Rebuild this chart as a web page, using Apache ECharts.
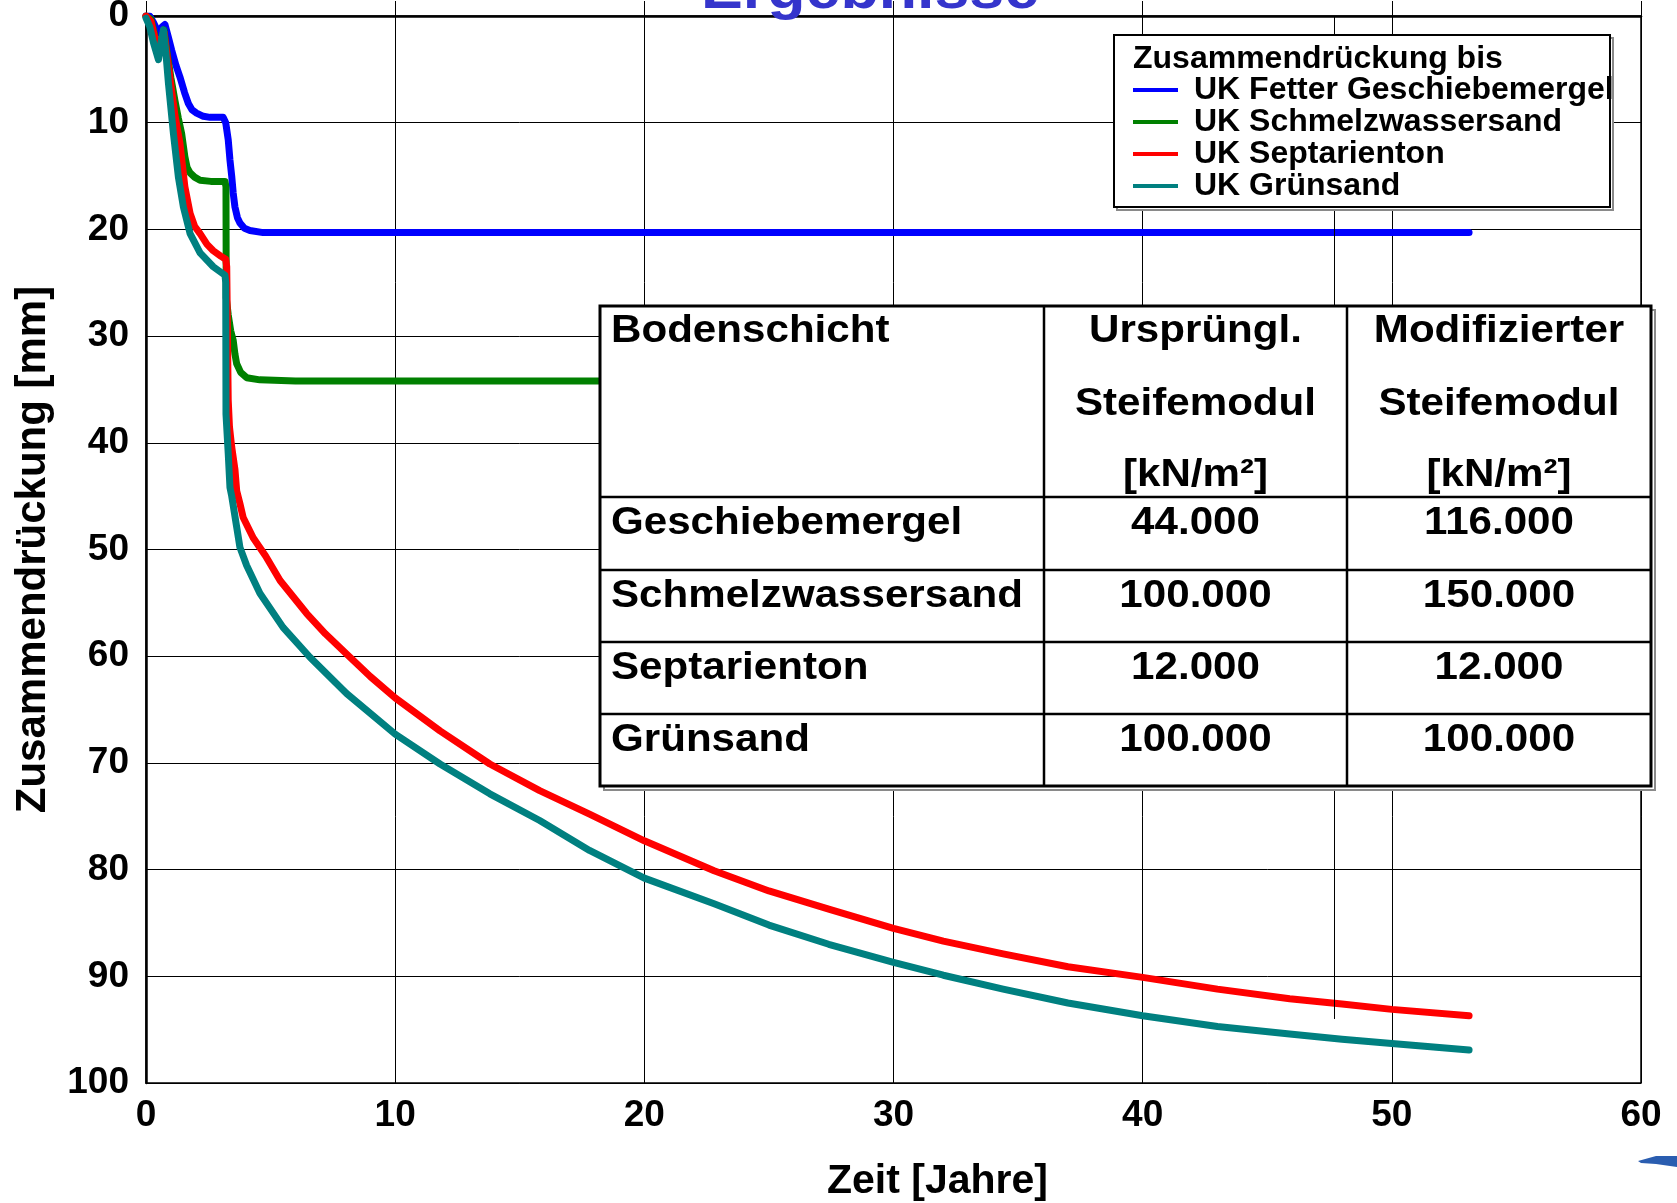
<!DOCTYPE html>
<html>
<head>
<meta charset="utf-8">
<script src="https://cdn.jsdelivr.net/npm/echarts@6/dist/echarts.min.js"></script>
<style>
  html, body { margin: 0; padding: 0; background: #fff; }
  #chart { width: 1677px; height: 1203px; }
</style>
</head>
<body>
<div id="chart"></div>
<script>
// Setzung über die Zeit: [Zeit in Jahren, Zusammendrückung in mm]
const seriesNames = [
  'UK Fetter Geschiebemergel',
  'UK Schmelzwassersand',
  'UK Septarienton',
  'UK Grünsand'
];

const geschiebemergel = [
  [0, 0], [0.15, 0], [0.3, 0.6], [0.5, 1.6], [0.65, 1.0], [0.76, 0.8], [0.9, 2.0],
  [1.03, 3.2], [1.2, 4.6], [1.36, 5.7], [1.55, 7.2], [1.7, 8.2], [1.85, 8.8],
  [2.03, 9.1], [2.3, 9.4], [2.57, 9.5], [2.9, 9.5], [3.1, 9.5], [3.2, 10.0],
  [3.3, 11.6], [3.37, 13.5], [3.44, 15.0], [3.5, 16.6], [3.57, 17.9], [3.67, 18.9],
  [3.77, 19.4], [3.95, 19.9], [4.17, 20.1], [4.7, 20.3], [6, 20.3], [53.1, 20.3]
];

const schmelzwassersand = [
  [0, 0], [0.2, 0.3], [0.35, 1.8], [0.5, 3.5], [0.62, 2.5], [0.72, 1.3], [0.85, 3.5],
  [1.0, 5.8], [1.16, 7.9], [1.3, 9.6], [1.43, 11.0], [1.56, 13.2], [1.65, 14.2],
  [1.77, 14.7], [1.95, 15.1], [2.17, 15.4], [2.6, 15.5], [3.17, 15.5], [3.21, 16],
  [3.22, 26.4], [3.3, 28], [3.4, 29.5], [3.5, 30.4], [3.57, 31.7], [3.64, 32.6],
  [3.8, 33.4], [4.04, 33.9], [4.57, 34.1], [6, 34.2], [53.1, 34.2]
];

const septarienton = [
  [0, 0], [0.2, 0.5], [0.35, 2], [0.5, 3.8], [0.62, 2.8], [0.72, 1.5], [0.85, 3.8],
  [1.0, 6.5], [1.16, 9.3], [1.36, 11.9], [1.56, 16], [1.77, 18.5], [1.95, 19.7],
  [2.17, 20.4], [2.45, 21.4], [2.7, 22.0], [3.0, 22.5], [3.2, 22.8], [3.24, 23.5],
  [3.27, 30], [3.3, 36], [3.35, 38.5], [3.44, 40.4], [3.57, 42.5], [3.64, 44.5],
  [3.77, 45.7], [3.9, 47], [4.3, 48.9], [4.8, 50.6], [5.38, 52.9], [6.45, 56],
  [7.2, 57.9], [8.05, 59.8], [9, 61.9], [10, 63.9], [11.8, 67], [13.8, 70.1],
  [15.8, 72.6], [17.8, 74.8], [20, 77.3], [22.8, 80.1], [25, 82], [27.4, 83.7],
  [30, 85.5], [32, 86.7], [34.4, 87.9], [37, 89.1], [40, 90.1], [43, 91.2],
  [45.9, 92.1], [48, 92.6], [50, 93.1], [53.1, 93.7]
];

const gruensand = [
  [0, 0.2], [0.15, 1], [0.3, 2.5], [0.5, 4.1], [0.6, 2.5], [0.7, 1.3], [0.8, 3.5],
  [0.9, 6.3], [1.1, 11], [1.3, 15.1], [1.5, 17.9], [1.77, 20.4], [2.17, 22.2],
  [2.7, 23.5], [3.17, 24.3], [3.2, 25], [3.21, 37.3], [3.3, 41], [3.37, 44.2],
  [3.44, 45], [3.64, 47.9], [3.77, 49.8], [4.04, 51.5], [4.57, 54.1], [5.5, 57.3],
  [6.58, 60.1], [8.05, 63.5], [10, 67.3], [11.8, 70.1], [13.8, 72.9], [15.8, 75.4],
  [17.8, 78.2], [20, 80.8], [22.8, 83.2], [25, 85.2], [27.4, 87], [30, 88.7],
  [32, 89.9], [34.4, 91.2], [37, 92.5], [40, 93.7], [43, 94.7], [45.9, 95.4],
  [48, 95.9], [50, 96.3], [53.1, 96.9]
];

const seriesColors = ['#0000ff', '#008000', '#ff0000', '#008080'];

// Hilfslinie im Diagramm
const referenceLineX = 47.7;
const referenceLineEnd = 94;

// Tabelle der Steifemoduln
const headerCols = [
  ['Bodenschicht'],
  ['Ursprüngl.', 'Steifemodul', '[kN/m²]'],
  ['Modifizierter', 'Steifemodul', '[kN/m²]']
];
const layers = ['Geschiebemergel', 'Schmelzwassersand', 'Septarienton', 'Grünsand'];
const esOriginal = ['44.000', '100.000', '12.000', '100.000'];
const esModified = ['116.000', '150.000', '12.000', '100.000'];

const FONT = '"Liberation Sans", Arial, Helvetica, sans-serif';

// ---- Tabelle als Grafik ----
function buildTable() {
  const colX = [600, 1044, 1347, 1651];
  const rowY = [306, 497, 570, 642, 714, 786];
  const tableFont = 'bold 39px ' + FONT;
  const sx = 1.08;
  const els = [];
  // Schatten
  els.push({
    type: 'rect', z: 9,
    shape: { x: colX[0] + 4, y: rowY[0] + 4, width: colX[3] - colX[0], height: rowY[5] - rowY[0] },
    style: { fill: '#fff', stroke: '#8a8a8a', lineWidth: 2 }
  });
  // Rahmen
  els.push({
    type: 'rect', z: 10,
    shape: { x: colX[0], y: rowY[0], width: colX[3] - colX[0], height: rowY[5] - rowY[0] },
    style: { fill: '#fff', stroke: '#000', lineWidth: 3 }
  });
  for (let i = 1; i < 5; i++) {
    els.push({
      type: 'line', z: 11,
      shape: { x1: colX[0], y1: rowY[i], x2: colX[3], y2: rowY[i] },
      style: { stroke: '#000', lineWidth: 2.5 }
    });
  }
  for (let j = 1; j < 3; j++) {
    els.push({
      type: 'line', z: 11,
      shape: { x1: colX[j], y1: rowY[0], x2: colX[j], y2: rowY[5] },
      style: { stroke: '#000', lineWidth: 2.5 }
    });
  }
  const headLineY = [331, 404, 475];
  headerCols.forEach((lines, c) => {
    lines.forEach((t, k) => {
      const left = c === 0;
      els.push({
        type: 'text', z: 12,
        x: left ? colX[0] + 11 : (colX[c] + colX[c + 1]) / 2,
        y: headLineY[k],
        scaleX: sx,
        style: { text: t, font: tableFont, fill: '#000', align: left ? 'left' : 'center', verticalAlign: 'middle' }
      });
    });
  });
  layers.forEach((name, r) => {
    const cy = rowY[r + 1] + 26.5;
    [name, esOriginal[r], esModified[r]].forEach((t, c) => {
      const left = c === 0;
      els.push({
        type: 'text', z: 12,
        x: left ? colX[0] + 11 : (colX[c] + colX[c + 1]) / 2,
        y: cy,
        scaleX: sx,
        style: { text: t, font: tableFont, fill: '#000', align: left ? 'left' : 'center', verticalAlign: 'middle' }
      });
    });
  });
  return els;
}

const chart = echarts.init(document.getElementById('chart'), null, { renderer: 'canvas' });

const series = [geschiebemergel, schmelzwassersand, septarienton, gruensand].map((d, i) => ({
  name: seriesNames[i],
  type: 'line',
  data: d,
  showSymbol: false,
  symbol: 'none',
  smooth: false,
  color: seriesColors[i],
  lineStyle: { color: seriesColors[i], width: 7, cap: 'round', join: 'round' },
  z: 2 + i,
  markLine: i === 0 ? {
    silent: true,
    symbol: ['none', 'none'],
    label: { show: false },
    lineStyle: { color: '#000', width: 1, type: 'solid' },
    data: [[{ coord: [referenceLineX, 0] }, { coord: [referenceLineX, referenceLineEnd] }]]
  } : undefined
}));

const option = {
  animation: false,
  backgroundColor: '#fff',
  grid: {
    left: 146, right: 36, top: 16, bottom: 120,
    outerBoundsMode: 'none',
    containLabel: false,
    show: true, borderColor: '#000', borderWidth: 1.5, backgroundColor: 'transparent'
  },
  xAxis: {
    type: 'value', min: 0, max: 60, interval: 10,
    name: 'Zeit [Jahre]', nameLocation: 'middle', nameGap: 78,
    nameTextStyle: { fontFamily: FONT, fontWeight: 'bold', fontSize: 41, color: '#000', padding: [0, 0, 0, 88] },
    axisLine: { show: true, lineStyle: { color: '#000', width: 2.5 } },
    axisTick: { show: true, inside: true, length: 15, lineStyle: { color: '#000', width: 1 } },
    axisLabel: { fontFamily: FONT, fontWeight: 'bold', fontSize: 37, color: '#000', margin: 14 },
    splitLine: { show: true, lineStyle: { color: '#000', width: 1 } }
  },
  yAxis: {
    type: 'value', min: 0, max: 100, interval: 10, inverse: true,
    name: 'Zusammendrückung [mm]', nameLocation: 'middle', nameGap: 92,
    nameTextStyle: { fontFamily: FONT, fontWeight: 'bold', fontSize: 42, color: '#000' },
    axisLine: { show: true, lineStyle: { color: '#000', width: 2.5 } },
    axisTick: { show: true, inside: true, length: 14, lineStyle: { color: '#000', width: 1 } },
    axisLabel: { fontFamily: FONT, fontWeight: 'bold', fontSize: 37, color: '#000', margin: 17 },
    splitLine: { show: true, lineStyle: { color: '#000', width: 1 } }
  },
  legend: {
    show: true,
    orient: 'vertical',
    left: 1133, top: 74,
    padding: 0,
    itemWidth: 45, itemHeight: 4, itemGap: 0,
    icon: 'rect',
    selectedMode: false,
    z: 20,
    data: seriesNames,
    textStyle: { fontFamily: FONT, fontWeight: 'bold', fontSize: 32, color: '#000', lineHeight: 31.5, padding: [0, 0, 0, 11] }
  },
  graphic: [
    // Diagrammtitel (oben angeschnitten)
    {
      type: 'text', z: 30, x: 870, y: -8, scaleX: 1.1,
      style: { text: 'Ergebnisse', font: 'bold 57px ' + FONT, fill: '#3535cc', align: 'center', verticalAlign: 'middle' }
    },
    // Legendenkasten
    {
      type: 'rect', z: 14,
      shape: { x: 1117, y: 38, width: 496, height: 172 },
      style: { fill: '#fff', stroke: '#8a8a8a', lineWidth: 2 }
    },
    {
      type: 'rect', z: 15,
      shape: { x: 1114, y: 35, width: 496, height: 172 },
      style: { fill: '#fff', stroke: '#000', lineWidth: 2 }
    },
    {
      type: 'text', z: 16, x: 1133, y: 59,
      style: { text: 'Zusammendrückung bis', font: 'bold 32px ' + FONT, fill: '#000', align: 'left', verticalAlign: 'middle' }
    },
    // Logo-Rest unten rechts
    {
      type: 'polygon', z: 16,
      shape: { points: [[1638, 1161], [1656, 1156], [1677, 1156], [1677, 1167], [1656, 1164], [1641, 1163]] },
      style: { fill: '#2a5db0' }
    }
  ].concat(buildTable()),
  series: series
};

chart.setOption(option);
</script>
</body>
</html>
